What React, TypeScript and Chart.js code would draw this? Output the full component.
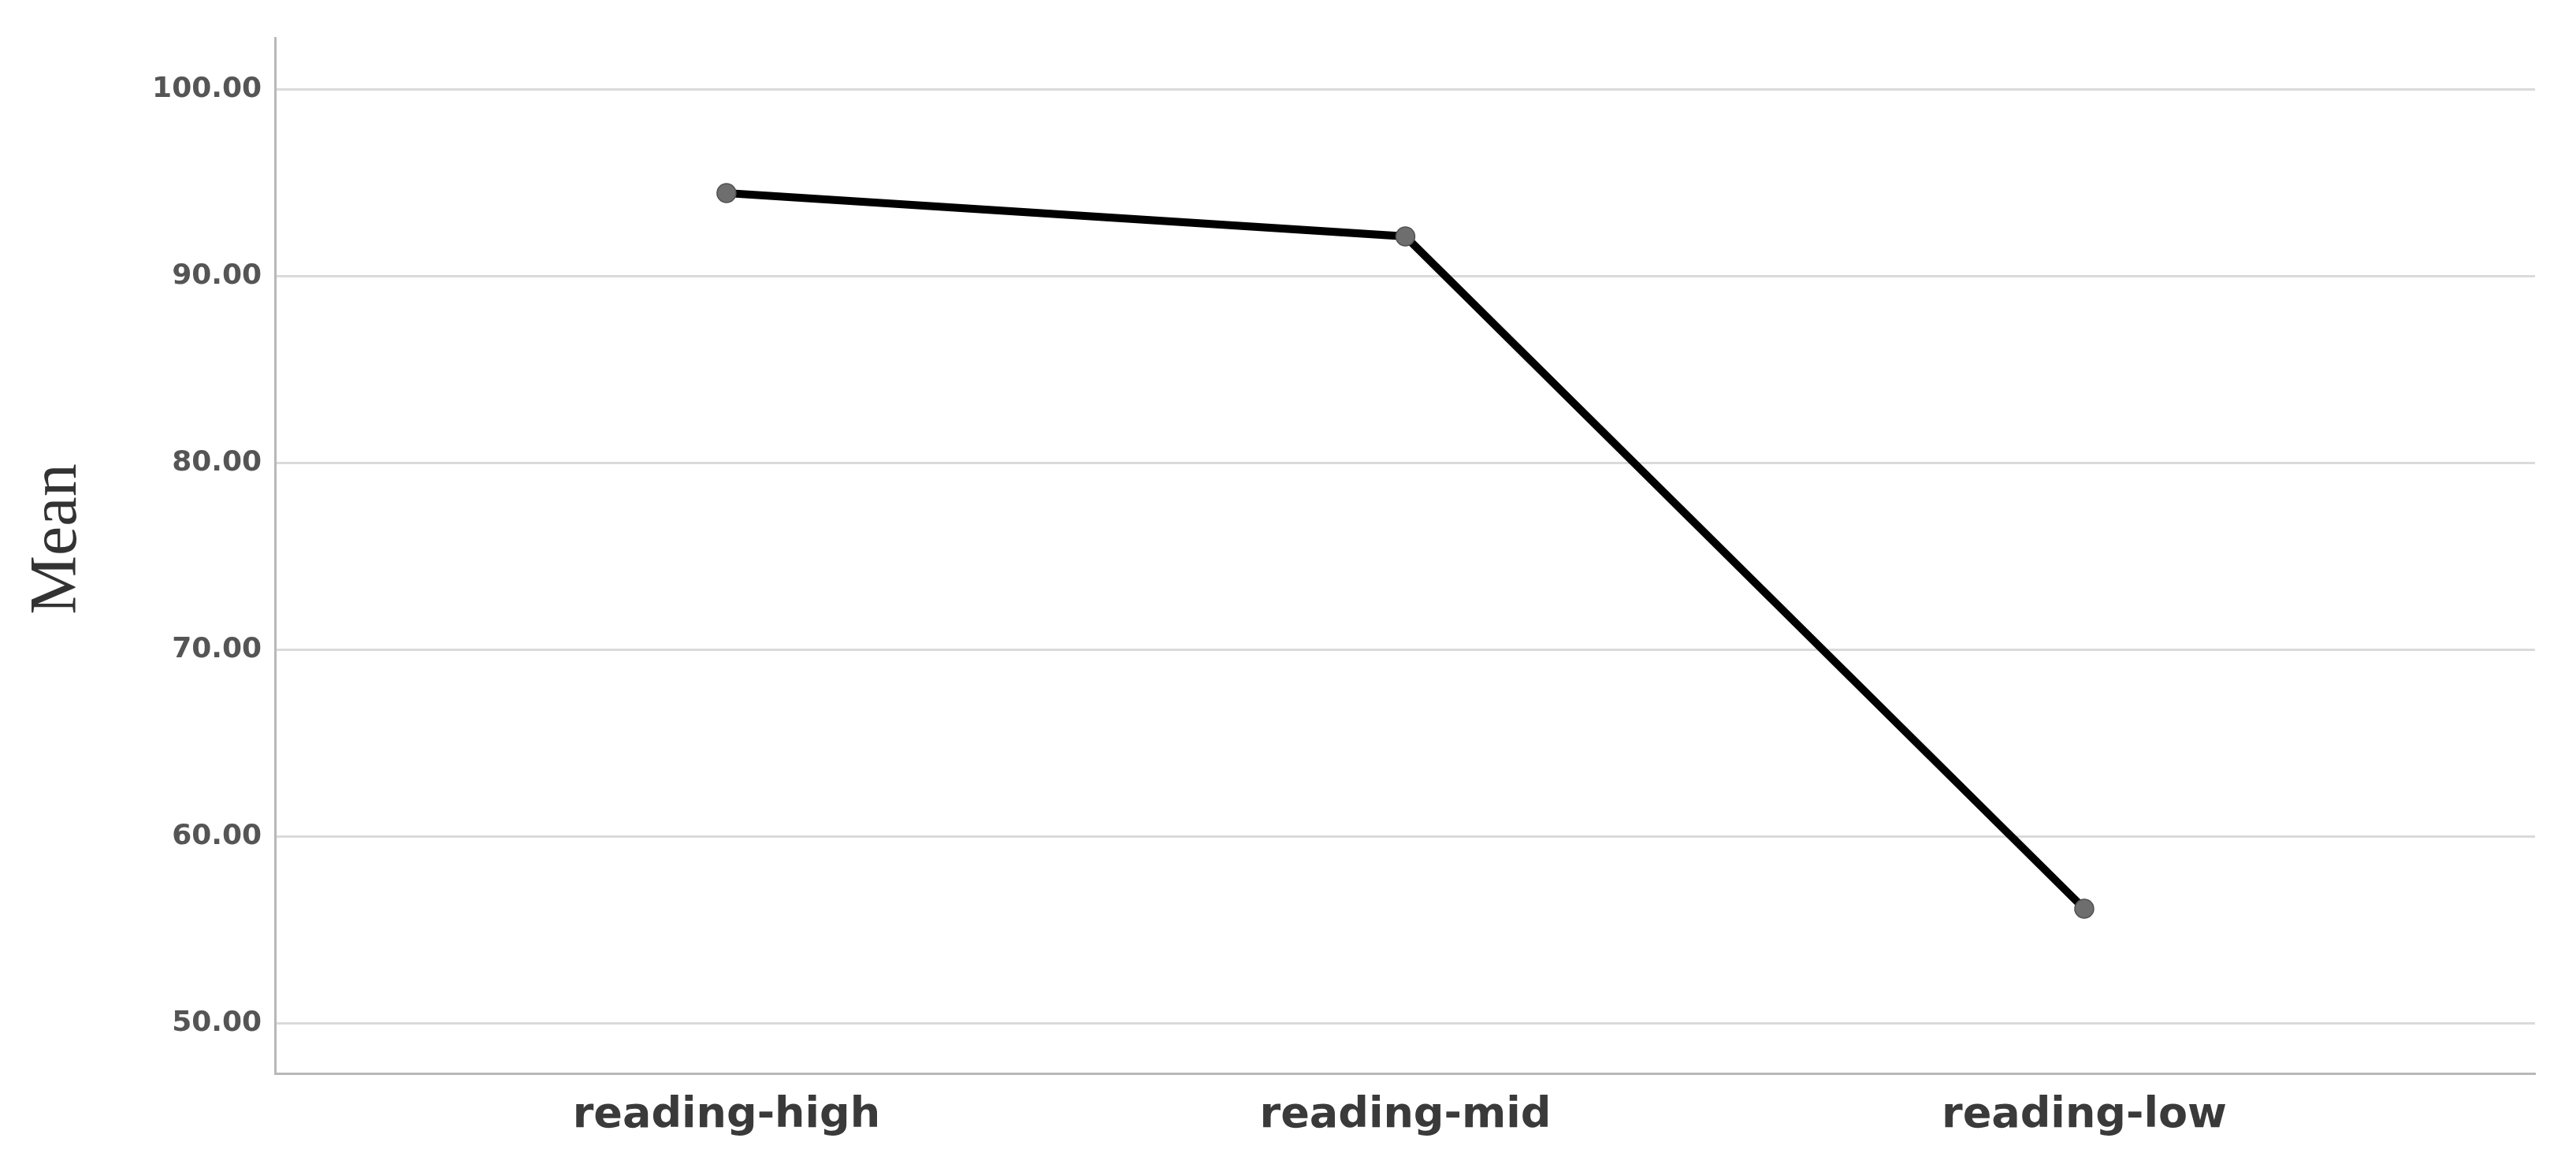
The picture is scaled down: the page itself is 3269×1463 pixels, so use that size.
import React, { useEffect, useRef } from "react";
import { Chart, registerables } from "chart.js";

Chart.register(...registerables);

const categories: string[] = ["reading-high", "reading-mid", "reading-low"];
const meanValues: number[] = [94.47, 92.15, 56.16];
const yTickValues: number[] = [50, 60, 70, 80, 90, 100];
const yAxisTitle = "Mean";

const W = 3269;
const H = 1463;

export default function App() {
  const ref = useRef<HTMLCanvasElement | null>(null);

  useEffect(() => {
    document.body.style.margin = "0";
    const canvas = ref.current;
    if (!canvas) return;

    const titlePlugin = {
      id: "meanTitle",
      afterDraw(chart: any) {
        const ctx = chart.ctx;
        ctx.save();
        ctx.translate(74, 684);
        ctx.rotate(-Math.PI / 2);
        ctx.font = "84px 'Liberation Serif'";
        ctx.fillStyle = "#333333";
        ctx.textAlign = "center";
        ctx.textBaseline = "middle";
        ctx.fillText(yAxisTitle, 0, 0);
        ctx.restore();
      },
    };

    const chart = new Chart(canvas, {
      type: "line",
      data: {
        datasets: [
          {
            label: yAxisTitle,
            data: meanValues.map((v, i) => ({ x: i, y: v })),
            borderColor: "#000000",
            borderWidth: 10,
            pointRadius: 12,
            pointBackgroundColor: "#6e6e6e",
            pointBorderColor: "#505050",
            pointBorderWidth: 1.5,
            tension: 0,
          },
        ],
      },
      options: {
        responsive: false,
        animation: false,
        devicePixelRatio: 1,
        layout: { padding: { top: 48, right: 52, left: 0, bottom: 0 } },
        plugins: {
          legend: { display: false },
          tooltip: { enabled: false },
        },
        scales: {
          x: {
            type: "linear",
            min: -0.665,
            max: 2.664,
            grid: { display: false, drawTicks: false },
            border: { display: true, color: "#b8b8b8", width: 3 },
            afterBuildTicks: (scale: any) => {
              scale.ticks = categories.map((_, i) => ({ value: i }));
            },
            afterFit: (scale: any) => {
              scale.height = H - 1362;
            },
            ticks: {
              padding: 22,
              color: "#3a3a3a",
              font: { family: "'DejaVu Sans'", size: 54, weight: "bold" },
              callback: (v: any) => categories[Math.round(Number(v))] ?? "",
              maxRotation: 0,
              autoSkip: false,
            },
          },
          y: {
            type: "linear",
            min: 47.34,
            max: 102.78,
            grid: { color: "#dadada", lineWidth: 3, drawTicks: false },
            border: { display: true, color: "#b8b8b8", width: 3 },
            afterBuildTicks: (scale: any) => {
              scale.ticks = yTickValues.map((v) => ({ value: v }));
            },
            afterFit: (scale: any) => {
              scale.width = 349;
            },
            ticks: {
              padding: 17,
              color: "#555555",
              font: { family: "'DejaVu Sans'", size: 36, weight: "bold" },
              callback: (v: any) => Number(v).toFixed(2),
            },
          },
        },
      },
      plugins: [titlePlugin],
    });

    return () => chart.destroy();
  }, []);

  return (
    <div style={{ position: "fixed", left: 0, top: 0, width: W, height: H, background: "#ffffff" }}>
      <canvas ref={ref} width={W} height={H} style={{ display: "block" }} />
    </div>
  );
}
